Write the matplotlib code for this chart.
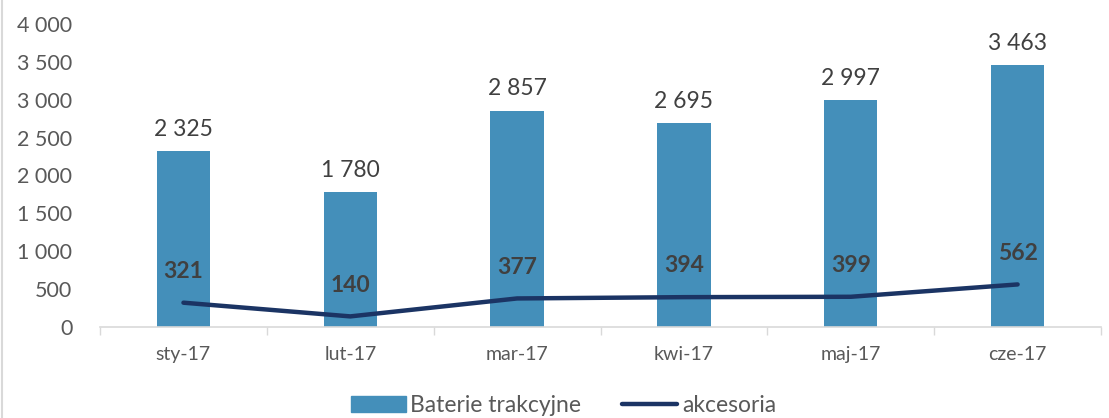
import numpy as np
import matplotlib
matplotlib.use("Agg")
import matplotlib.pyplot as plt
from matplotlib.lines import Line2D

months = ["sty-17", "lut-17", "mar-17", "kwi-17", "maj-17", "cze-17"]
baterie = [2325, 1780, 2857, 2695, 2997, 3463]
akcesoria = [321, 140, 377, 394, 399, 562]
yticks = [0, 500, 1000, 1500, 2000, 2500, 3000, 3500, 4000]

BAR_COLOR = "#448fba"
LINE_COLOR = "#1b3464"
TEXT = "#595959"
DARK = "#404040"

plt.rcParams['font.family'] = ['Lato', 'DejaVu Sans']


def fmt(v):
    return "{:,}".format(v).replace(",", " ")


fig = plt.figure(figsize=(11.09, 4.18), dpi=100)
ax = fig.add_axes([0.0902, 0.2177, 0.9026, 0.7249])
x = np.arange(len(months))

ax.bar(x, baterie, width=0.32, color=BAR_COLOR, zorder=2)
ax.plot(x, akcesoria, color=LINE_COLOR, lw=3.2, solid_capstyle="round",
        solid_joinstyle="round", zorder=3)

for xi, v in zip(x, baterie):
    ax.annotate(fmt(v), (xi, v), xytext=(0, 8), textcoords="offset points",
                ha="center", va="bottom", fontsize=16.5, color=DARK)
for xi, v in zip(x, akcesoria):
    ax.annotate(fmt(v), (xi, v), xytext=(0, 15), textcoords="offset points",
                ha="center", va="bottom", fontsize=16.5, color=DARK,
                fontweight="bold")

ax.set_xlim(-0.5, len(months) - 0.5)
ax.set_ylim(0, 4000)
ax.set_yticks(yticks)
ax.set_yticklabels([fmt(t) for t in yticks])
ax.set_xticks(x)
ax.set_xticklabels(months)
ax.set_xticks(np.arange(-0.5, len(months)), minor=True)
ax.tick_params(axis="y", length=0, labelsize=15.5, labelcolor=TEXT, pad=20)
ax.tick_params(axis="x", which="major", length=0, labelsize=14,
               labelcolor=TEXT, pad=14)
ax.tick_params(axis="x", which="minor", length=6, color="#d9d9d9", width=1)
for s in ["top", "right", "left"]:
    ax.spines[s].set_visible(False)
ax.spines["bottom"].set_color("#d9d9d9")
ax.spines["bottom"].set_linewidth(1.2)

handles = [
    plt.Rectangle((0, 0), 1, 1, color=BAR_COLOR),
    Line2D([0], [0], color=LINE_COLOR, lw=3.2, solid_capstyle="round"),
]
fig.legend(handles, ["Baterie trakcyjne", "akcesoria"], loc="center",
           bbox_to_anchor=(0.508, 0.03), ncol=2, frameon=False,
           fontsize=16.5, labelcolor=TEXT, handlelength=2.4, handletextpad=0.2,
           columnspacing=1.8)

fig.add_artist(Line2D([0.002, 0.002], [0, 1], color="#d9d9d9", lw=1.5,
                      transform=fig.transFigure))

fig.savefig("out.png", dpi=100)
